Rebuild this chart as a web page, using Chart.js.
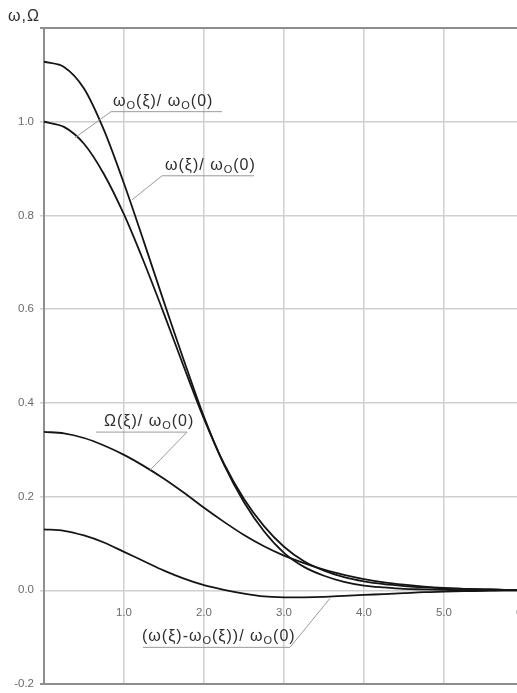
<!DOCTYPE html>
<html>
<head>
<meta charset="utf-8">
<script src="https://cdn.jsdelivr.net/npm/chart.js@4.4.0/dist/chart.umd.min.js"></script>
<style>
  html, body { margin: 0; padding: 0; background: #fff; overflow: hidden; }
  #wrap { position: relative; width: 540px; height: 693px; }
</style>
</head>
<body>
<div id="wrap"><canvas id="chart"></canvas></div>
<script>
// Data (xi step 0.25)
const xi = [0, 0.25, 0.5, 0.75, 1, 1.25, 1.5, 1.75, 2, 2.25, 2.5, 2.75, 3,
            3.25, 3.5, 3.75, 4, 4.25, 4.5, 4.75, 5, 5.25, 5.5, 5.75, 6];
const omega0 = [1.000, 0.989, 0.953, 0.888, 0.802, 0.700, 0.590, 0.476, 0.366, 0.270, 0.195, 0.137, 0.093,
                0.062, 0.042, 0.028, 0.019, 0.013, 0.009, 0.006, 0.004, 0.003, 0.002, 0.001, 0.001];
const omega = [1.128, 1.117, 1.071, 0.982, 0.868, 0.743, 0.615, 0.490, 0.370, 0.268, 0.188, 0.126, 0.080,
               0.050, 0.031, 0.018, 0.010, 0.006, 0.003, 0.002, 0.001, 0.000, 0.000, 0.000, 0.000];
const bigOmega = [0.338, 0.335, 0.325, 0.309, 0.289, 0.265, 0.238, 0.208, 0.176, 0.146, 0.118, 0.094, 0.074,
                  0.058, 0.044, 0.033, 0.024, 0.017, 0.012, 0.008, 0.005, 0.003, 0.002, 0.001, 0.001];
const omegaDiff = [0.130, 0.127, 0.117, 0.102, 0.082, 0.062, 0.042, 0.025, 0.011, 0.001, -0.007, -0.013, -0.015,
                   -0.015, -0.014, -0.012, -0.010, -0.008, -0.006, -0.004, -0.003, -0.002, -0.001, 0.000, 0.000];

const xTickLabels = ['', '1.0', '2.0', '3.0', '4.0', '5.0', '6.0'];
const yTickLabels = ['-0.2', '0.0', '0.2', '0.4', '0.6', '0.8', '1.0', ''];

const toPoints = arr => arr.map((v, i) => ({ x: xi[i], y: v }));

function curve(arr) {
    return {
        data: toPoints(arr),
        borderColor: '#151515',
        borderWidth: 1.8,
        pointRadius: 0,
        showLine: true,
        fill: false,
        tension: 0.3
    };
}

// text pieces: [text, isSubscript]
const notes = [
    { parts: [['ω'], ['O', 1], ['(ξ)/ '], ['ω'], ['O', 1], ['(0)']],
      at: [0.8625, 1.0214], ul: [0.8375, 2.225], end: [0.3875, 0.966], side: 'left' },
    { parts: [['ω(ξ)/ '], ['ω'], ['O', 1], ['(0)']],
      at: [1.5125, 0.8846], ul: [1.475, 2.625], end: [1.1, 0.8333], side: 'left' },
    { parts: [['Ω(ξ)/ '], ['ω'], ['O', 1], ['(0)']],
      at: [0.75, 0.3376], ul: [0.65, 1.7875], end: [1.325, 0.2564], side: 'right' },
    { parts: [['(ω(ξ)-ω'], ['O', 1], ['(ξ))/ '], ['ω'], ['O', 1], ['(0)']],
      at: [1.225, -0.1218], ul: [1.2375, 3.075], end: [3.575, -0.0171], side: 'right' }
];

const FONT = '"Liberation Sans", Arial, sans-serif';
const edgeColor = '#8e8e8e';
const gridColor = '#cfcfcf';

const notesPlugin = {
    id: 'notes',
    beforeDatasetsDraw(chart) {
        // top frame line
        const a = chart.chartArea, c = chart.ctx;
        c.save();
        c.strokeStyle = edgeColor;
        c.lineWidth = 2;
        c.beginPath();
        c.moveTo(a.left, a.top);
        c.lineTo(a.right, a.top);
        c.stroke();
        c.restore();
    },
    afterDatasetsDraw(chart) {
        const c = chart.ctx;
        const sx = chart.scales.x, sy = chart.scales.y;
        c.save();
        notes.forEach(n => {
            const ulY = sy.getPixelForValue(n.at[1]);
            const x1 = sx.getPixelForValue(n.ul[0]);
            const x2 = sx.getPixelForValue(n.ul[1]);
            const ex = sx.getPixelForValue(n.end[0]);
            const ey = sy.getPixelForValue(n.end[1]);
            c.strokeStyle = '#9a9a9a';
            c.lineWidth = 1;
            c.beginPath();
            if (n.side === 'left') {
                c.moveTo(ex, ey); c.lineTo(x1, ulY); c.lineTo(x2, ulY);
            } else {
                c.moveTo(x1, ulY); c.lineTo(x2, ulY); c.lineTo(ex, ey);
            }
            c.stroke();
            // text
            let tx = sx.getPixelForValue(n.at[0]);
            const base = ulY - 6;
            c.fillStyle = '#2e2e2e';
            c.textBaseline = 'alphabetic';
            c.textAlign = 'left';
            c.letterSpacing = '1px';
            n.parts.forEach(p => {
                if (p[1]) {
                    c.font = '11px ' + FONT;
                    c.fillText(p[0], tx, base + 3);
                } else {
                    c.font = '16px ' + FONT;
                    c.fillText(p[0], tx, base);
                }
                tx += c.measureText(p[0]).width;
            });
        });
        // axis title
        c.font = '16px ' + FONT;
        c.letterSpacing = '1px';
        c.fillStyle = '#2e2e2e';
        c.textBaseline = 'alphabetic';
        c.fillText('ω,Ω', 8, 21);
        c.restore();
    }
};

// keep the plot box fixed: no automatic padding from tick labels
const noPad = s => { s.paddingLeft = 0; s.paddingRight = 0; s.paddingTop = 0; s.paddingBottom = 0; };

new Chart(document.getElementById('chart'), {
    type: 'scatter',
    data: {
        datasets: [curve(omega0), curve(omega), curve(bigOmega), curve(omegaDiff)]
    },
    options: {
        responsive: true,
        maintainAspectRatio: false,
        animation: false,
        layout: { padding: { top: 28, bottom: 9, right: 16, left: 0 } },
        plugins: { legend: { display: false }, tooltip: { enabled: false } },
        scales: {
            x: {
                type: 'linear',
                position: { y: 0 },
                min: 0, max: 6,
                afterFit: noPad,
                ticks: {
                    stepSize: 1,
                    autoSkip: false,
                    maxRotation: 0,
                    padding: 16,
                    color: '#6a6a6a',
                    font: { size: 11.5, family: FONT },
                    callback: (v, i) => xTickLabels[i]
                },
                grid: {
                    drawTicks: false,
                    color: ctx => ctx.index === 0 ? edgeColor : gridColor,
                    lineWidth: 1.5
                },
                border: { display: false }
            },
            y: {
                type: 'linear',
                min: -0.2, max: 1.2,
                afterFit: s => { s.width = 44; noPad(s); },
                ticks: {
                    stepSize: 0.2,
                    padding: 6,
                    color: '#6a6a6a',
                    font: { size: 11.5, family: FONT },
                    callback: (v, i) => yTickLabels[i]
                },
                grid: {
                    tickLength: 4,
                    color: ctx => (ctx.index === 0 || ctx.index === 7) ? edgeColor : gridColor,
                    lineWidth: ctx => (ctx.index === 0 || ctx.index === 7) ? 2 : 1.5
                },
                border: { display: true, color: edgeColor, width: 2 }
            }
        }
    },
    plugins: [notesPlugin]
});
</script>
</body>
</html>
